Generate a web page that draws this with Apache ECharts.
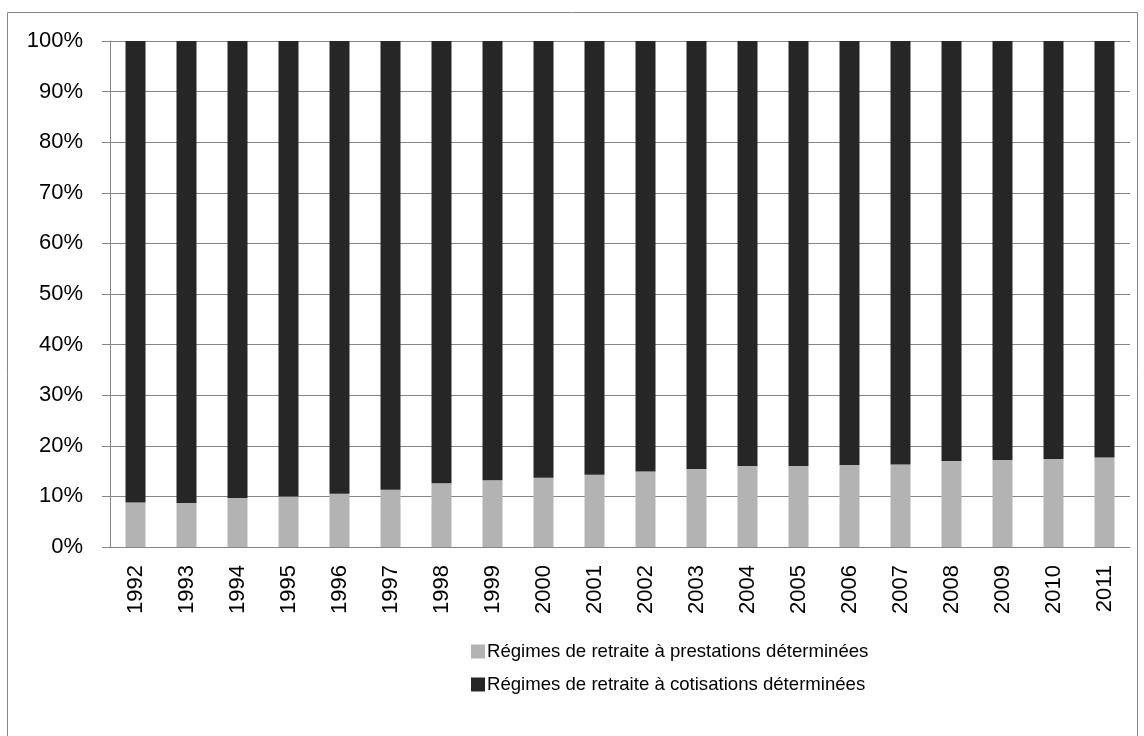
<!DOCTYPE html>
<html>
<head>
<meta charset="utf-8">
<title>Régimes de retraite</title>
<script src="https://cdn.jsdelivr.net/npm/echarts@6/dist/echarts.min.js"></script>
<style>
  html, body { margin: 0; padding: 0; background: #fff; }
  #chart { width: 1144px; height: 736px; }
</style>
</head>
<body>
<div id="chart"></div>
<script>
// data (share in %)
const years = ['1992', '1993', '1994', '1995', '1996', '1997', '1998', '1999', '2000', '2001',
  '2002', '2003', '2004', '2005', '2006', '2007', '2008', '2009', '2010', '2011'];
const prestations = [8.8, 8.7, 9.7, 10.0, 10.5, 11.3, 12.6, 13.2, 13.7, 14.3,
  14.9, 15.4, 16.0, 16.0, 16.2, 16.3, 17.0, 17.2, 17.4, 17.7];
const cotisations = prestations.map(v => +(100 - v).toFixed(1));
const seriesNames = ['Régimes de retraite à prestations déterminées', 'Régimes de retraite à cotisations déterminées'];

const chart = echarts.init(document.getElementById('chart'));
const font = 'Liberation Sans, Arial, sans-serif';

const option = {
  animation: false,
  textStyle: { fontFamily: font },
  graphic: [{
    type: 'rect',
    shape: { x: 7.5, y: 12.5, width: 1130, height: 740 },
    style: { fill: 'none', stroke: '#868686', lineWidth: 1 }
  }],
  grid: { left: 110, right: 14, top: 41, bottom: 189 },
  legend: {
    orient: 'vertical',
    left: 466,
    top: 637,
    itemWidth: 14,
    itemHeight: 14,
    itemGap: 14,
    icon: 'rect',
    textStyle: { fontSize: 18.6, color: '#000', fontFamily: font, padding: [0, 0, 0, -3] },
    data: seriesNames
  },
  xAxis: {
    type: 'category',
    data: years,
    axisLine: { lineStyle: { color: '#868686', width: 1 } },
    axisTick: { alignWithLabel: false, length: 8, lineStyle: { color: '#868686' } },
    axisLabel: { rotate: 90, color: '#000', fontSize: 22, margin: 18, fontFamily: font }
  },
  yAxis: {
    type: 'value',
    min: 0,
    max: 100,
    interval: 10,
    axisLine: { show: true, lineStyle: { color: '#868686' } },
    axisTick: { show: true, length: 8, lineStyle: { color: '#868686' } },
    splitLine: { lineStyle: { color: '#868686', width: 1 } },
    axisLabel: { formatter: '{value}%', color: '#000', fontSize: 22, margin: 27, fontFamily: font }
  },
  series: [
    {
      name: seriesNames[0],
      type: 'bar',
      stack: 'total',
      data: prestations,
      barWidth: 20,
      itemStyle: { color: '#b3b3b3' }
    },
    {
      name: seriesNames[1],
      type: 'bar',
      stack: 'total',
      data: cotisations,
      barWidth: 20,
      itemStyle: { color: '#262626' }
    }
  ]
};

chart.setOption(option);
</script>
</body>
</html>
